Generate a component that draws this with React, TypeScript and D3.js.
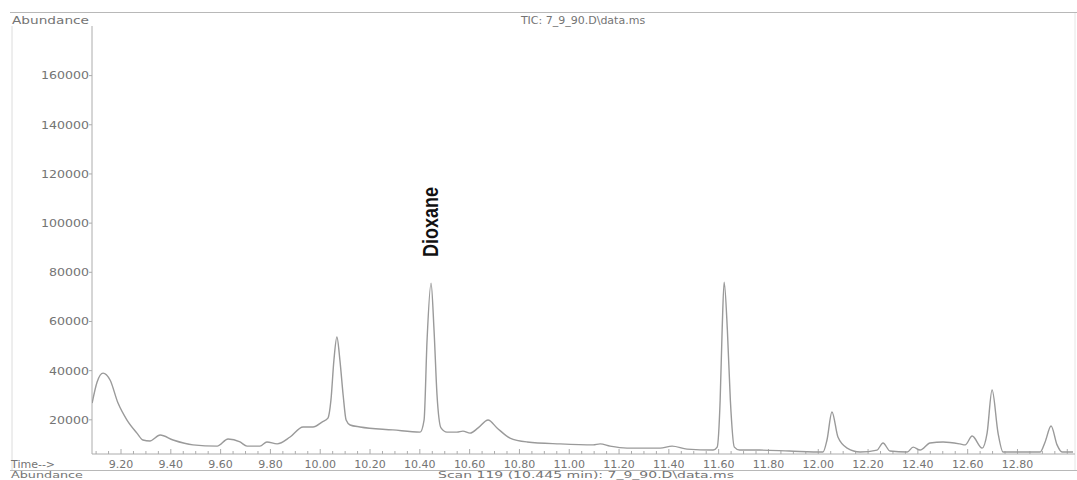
import * as d3 from 'd3';

// retention time (min) and abundance
const times = [
  9.084, 9.104, 9.128, 9.156, 9.188, 9.224, 9.264, 9.288, 9.316, 9.357, 9.409, 9.489,
  9.586, 9.63, 9.678, 9.706, 9.758, 9.786, 9.827, 9.879, 9.931, 9.971, 10.007, 10.031,
  10.043, 10.055, 10.067, 10.079, 10.092, 10.104, 10.12, 10.16, 10.292, 10.401, 10.417,
  10.429, 10.445, 10.457, 10.469, 10.485, 10.509, 10.549, 10.573, 10.602, 10.634, 10.674,
  10.71, 10.762, 10.831, 10.963, 11.096, 11.124, 11.164, 11.232, 11.365, 11.413, 11.473,
  11.578, 11.594, 11.606, 11.614, 11.622, 11.635, 11.647, 11.663, 11.684, 11.764, 11.884,
  12.019, 12.035, 12.055, 12.079, 12.116, 12.168, 12.236, 12.26, 12.288, 12.357, 12.381,
  12.409, 12.449, 12.501, 12.569, 12.59, 12.618, 12.658, 12.678, 12.698, 12.722, 12.742,
  12.891, 12.911, 12.935, 12.959, 12.979, 13.023,
];
const abundance = [
  26800, 35400, 39000, 36200, 26800, 19900, 14600, 11800, 11400, 13800, 11800, 9800,
  9300, 12200, 11000, 9300, 9300, 11000, 10200, 13000, 17100, 17100, 19100, 20700,
  28000, 44300, 53700, 44300, 30100, 19900, 17900, 17100, 15900, 15000, 19900,
  52400, 75600, 56500, 30100, 16700, 15000, 15000, 15400, 14600, 16700, 19900,
  16700, 12600, 11000, 10200, 9800, 10200, 9300, 8500, 8500, 9300, 8100,
  7700, 8900, 28000, 56500, 76000, 56500, 28000, 8900, 7700, 7700, 7300,
  6900, 11800, 23200, 13000, 8500, 6900, 7700, 10600, 7300, 6900, 8900,
  7700, 10600, 11000, 10200, 9800, 13400, 8500, 14600, 32100, 14600, 6900,
  6900, 11000, 17500, 9800, 6900, 6900,
];

const yTicks = [20000, 40000, 60000, 80000, 100000, 120000, 140000, 160000];
const xTickLabels = ['9.20', '9.40', '9.60', '9.80', '10.00', '10.20', '10.40', '10.60', '10.80',
  '11.00', '11.20', '11.40', '11.60', '11.80', '12.00', '12.20', '12.40', '12.60', '12.80'];

const peakLabel = { name: 'Dioxane', time: 10.445 };

const W = 1077;
const H = 480;
const left = 92;
const right = 1075;
const top = 13;
const bottom = 454;

const textColor = '#747474';
const lineColor = '#9a9a9a';
const axisColor = '#acacac';
const font = '"DejaVu Sans", Verdana, sans-serif';

export default function App() {
  const x = d3.scaleLinear().domain([9.0835, 13.031]).range([left, right]);
  const y = d3.scaleLinear().domain([0, 160000]).range([469, 75.6]);

  const pts = times.map((t, i) => [t, abundance[i]] as [number, number]);
  const line = d3
    .line<[number, number]>()
    .x((d) => x(d[0]))
    .y((d) => y(d[1]))
    .curve(d3.curveMonotoneX);

  const minor = d3.range(182, 261).map((k) => k * 0.05);
  const peakX = x(peakLabel.time) + 7;

  return (
    <svg
      width={W}
      height={H}
      style={{ position: 'absolute', left: 0, top: 0, background: '#fff' }}
    >
      <defs>
        <clipPath id="plot">
          <rect x={left} y={top} width={right - left} height={bottom - top} />
        </clipPath>
      </defs>

      {/* frame */}
      <line x1={10} x2={W} y1={12.5} y2={12.5} stroke="#b8b8b8" strokeWidth={1.2} />
      <line x1={12} x2={12} y1={26} y2={470} stroke="#dcdcdc" />
      <line x1={right} x2={right} y1={13} y2={470} stroke="#e6e6e6" />
      <line x1={10} x2={W} y1={470.5} y2={470.5} stroke="#b8b8b8" strokeWidth={1.2} />

      <text x={12} y={24} fontFamily={font} fontSize={11} fill={textColor} textLength={77} lengthAdjust="spacingAndGlyphs">
        Abundance
      </text>
      <text x={583} y={24} fontFamily={font} fontSize={11} fill={textColor} textAnchor="middle">
        TIC: 7_9_90.D\data.ms
      </text>

      {/* y axis */}
      <line x1={left} x2={left} y1={26} y2={bottom} stroke={axisColor} />
      {yTicks.map((v) => (
        <g key={v}>
          <line x1={left - 3} x2={left} y1={y(v)} y2={y(v)} stroke={axisColor} />
          <text
            x={left - 3}
            y={y(v)}
            dy="0.35em"
            textAnchor="end"
            fontFamily={font}
            fontSize={11}
            fill={textColor}
            textLength={String(v).length * 8}
            lengthAdjust="spacingAndGlyphs"
          >
            {v}
          </text>
        </g>
      ))}

      {/* x axis */}
      <line x1={left} x2={right} y1={bottom} y2={bottom} stroke={axisColor} />
      {minor.map((t) => {
        const major = Math.round(t * 100) % 20 === 0;
        return (
          <line
            key={t}
            x1={x(t)}
            x2={x(t)}
            y1={bottom}
            y2={bottom - (major ? 5 : 3)}
            stroke={axisColor}
          />
        );
      })}
      {xTickLabels.map((s) => (
        <text
          key={s}
          x={x(+s)}
          y={468}
          textAnchor="middle"
          fontFamily={font}
          fontSize={11}
          fill={textColor}
        >
          {s}
        </text>
      ))}
      <text x={11} y={468} fontFamily={font} fontSize={11} fill={textColor}>
        Time--&gt;
      </text>

      {/* trace */}
      <path
        d={line(pts) ?? ''}
        fill="none"
        stroke={lineColor}
        strokeWidth={1.4}
        strokeLinejoin="round"
        clipPath="url(#plot)"
      />

      {/* peak annotation */}
      <text
        transform={`translate(${peakX},222) rotate(-90)`}
        textAnchor="middle"
        fontFamily='"Liberation Sans Narrow", "Liberation Sans", Arial, sans-serif'
        fontWeight="bold"
        fontSize={22}
        fill="#111"
        textLength={70}
        lengthAdjust="spacingAndGlyphs"
      >
        {peakLabel.name}
      </text>

      {/* next panel header */}
      <text x={11} y={478} fontFamily={font} fontSize={8.5} fill={textColor} textLength={72} lengthAdjust="spacingAndGlyphs">
        Abundance
      </text>
      <text
        x={586}
        y={478}
        fontFamily={font}
        fontSize={8.5}
        fill={textColor}
        textAnchor="middle"
        textLength={296}
        lengthAdjust="spacingAndGlyphs"
      >
        Scan 119 (10.445 min): 7_9_90.D\data.ms
      </text>
    </svg>
  );
}
